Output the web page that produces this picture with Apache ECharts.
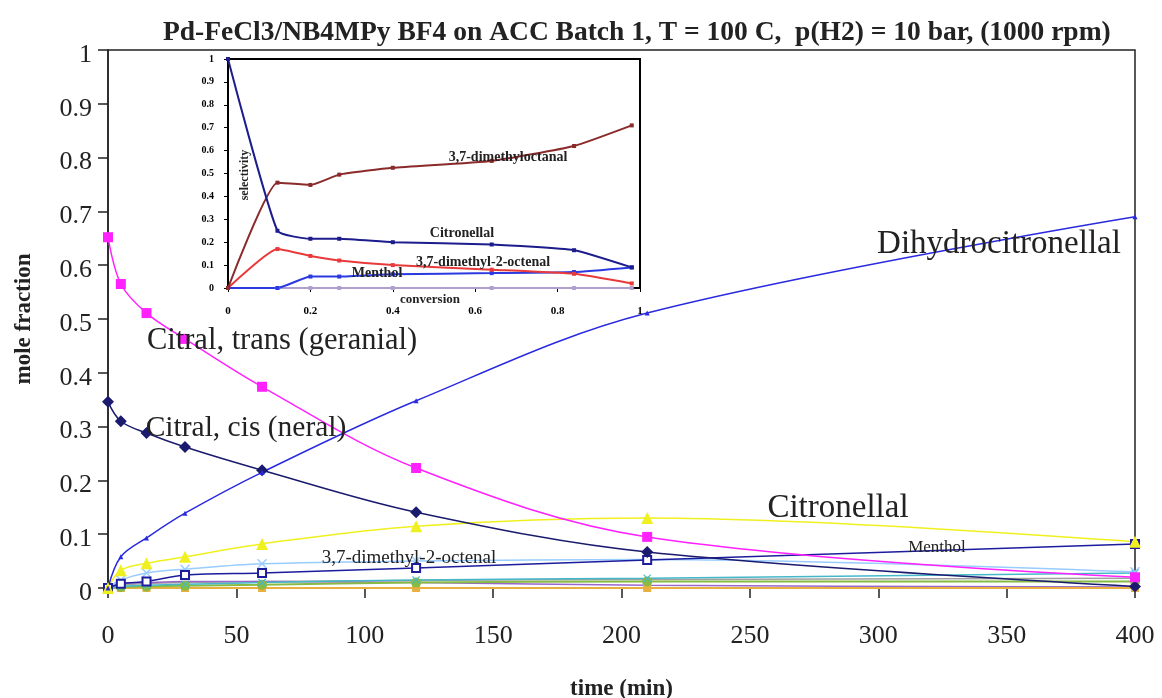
<!DOCTYPE html>
<html>
<head>
<meta charset="utf-8">
<script src="https://cdn.jsdelivr.net/npm/echarts@6/dist/echarts.min.js"></script>
<style>
  html, body { margin: 0; padding: 0; background: #fff; }
  #main { width: 1162px; height: 698px; }
</style>
</head>
<body>
<div id="main"></div>
<script>
// main plot: mole fraction vs time
var times = [0, 5, 15, 30, 60, 120, 210, 400];
var citralTrans = [0.652, 0.565, 0.511, 0.463, 0.374, 0.223, 0.095, 0.02];
var citralCis = [0.346, 0.31, 0.288, 0.262, 0.219, 0.141, 0.067, 0.003];
var dihydro = [0, 0.058, 0.093, 0.139, 0.215, 0.348, 0.511, 0.69];
var citronellal = [0, 0.033, 0.046, 0.058, 0.082, 0.115, 0.13, 0.086];
var menthol = [0, 0.008, 0.012, 0.024, 0.028, 0.037, 0.052, 0.082];
var octenal = [0, 0.015, 0.028, 0.035, 0.045, 0.05, 0.053, 0.03];
var minorTeal = [0, 0.003, 0.005, 0.007, 0.01, 0.015, 0.018, 0.028];
var minorGreen = [0, 0.002, 0.003, 0.004, 0.006, 0.01, 0.012, 0.012];
var minorOrange = [0, 0, 0, 0, 0, 0, 0, 0];
var minorPurple = [0, 0.008, 0.01, 0.012, 0.012, 0.01, 0.005, 0.002];
var minorGray = [0, 0.005, 0.008, 0.01, 0.012, 0.014, 0.016, 0.018];

// inset: selectivity vs conversion
var conv = [0, 0.12, 0.2, 0.27, 0.4, 0.64, 0.84, 0.98];
var selCitronellal = [1.0, 0.25, 0.215, 0.215, 0.2, 0.19, 0.165, 0.09];
var selOctanal = [0, 0.46, 0.45, 0.495, 0.525, 0.555, 0.62, 0.71];
var selOctenal = [0, 0.17, 0.14, 0.12, 0.1, 0.08, 0.062, 0.02];
var selMenthol = [0, 0, 0.05, 0.05, 0.06, 0.065, 0.07, 0.09];
var selOther = [0, 0, 0, 0, 0, 0, 0, 0];

var serif = 'Liberation Serif';
var xMark = 'path://M0,1L1,0L5,4L9,0L10,1L6,5L10,9L9,10L5,6L1,10L0,9L4,5Z';

function pairs(xs, ys) {
  return xs.map(function (x, i) { return [x, ys[i]]; });
}

function mainLine(name, ys, color, symbol, size, width) {
  return {
    name: name, type: 'line', xAxisIndex: 0, yAxisIndex: 0,
    data: pairs(times, ys), smooth: 0.35,
    symbol: symbol, symbolSize: size, showSymbol: true,
    lineStyle: { color: color, width: width || 1.5 },
    itemStyle: { color: color, borderWidth: 1.5 }
  };
}

function insetLine(name, ys, color, symbol) {
  return {
    name: name, type: 'line', xAxisIndex: 1, yAxisIndex: 1,
    data: pairs(conv, ys), smooth: 0.15,
    symbol: symbol || 'rect', symbolSize: 4,
    lineStyle: { color: color, width: 2 },
    itemStyle: { color: color }
  };
}

function label(txt, x, y, font, extra) {
  var g = { type: 'text', x: x, y: y, z: 10,
    style: { text: txt, font: font, fill: '#222', align: 'center', verticalAlign: 'middle' } };
  if (extra) { for (var k in extra) g[k] = extra[k]; }
  return g;
}

var chart = echarts.init(document.getElementById('main'));
chart.setOption({
  animation: false,
  backgroundColor: '#fff',
  title: {
    text: 'Pd-FeCl3/NB4MPy BF4 on ACC Batch 1, T = 100 C,  p(H2) = 10 bar, (1000 rpm)',
    left: 158, top: 14,
    textStyle: { fontFamily: serif, fontWeight: 'bold', fontSize: 27.5, color: '#222' }
  },
  grid: [
    { left: 108, right: 27, top: 50, bottom: 110, outerBoundsMode: 'none', containLabel: false,
      show: true, borderColor: '#222', borderWidth: 1.5 },
    { left: 228, top: 59, width: 412, height: 229, outerBoundsMode: 'none', containLabel: false,
      show: true, backgroundColor: '#fff', borderColor: '#000', borderWidth: 2 }
  ],
  xAxis: [
    {
      type: 'value', gridIndex: 0, min: 0, max: 400, interval: 50,
      name: 'time (min)', nameLocation: 'middle', nameGap: 90,
      nameTextStyle: { fontFamily: serif, fontWeight: 'bold', fontSize: 23, color: '#222' },
      axisLine: { lineStyle: { color: '#222', width: 1.5 } },
      axisTick: { length: 10, lineStyle: { color: '#222', width: 1.5 } },
      axisLabel: { fontFamily: serif, fontSize: 26, color: '#222', margin: 35 },
      splitLine: { show: false }
    },
    {
      type: 'value', gridIndex: 1, min: 0, max: 1, interval: 0.2,
      axisLine: { lineStyle: { color: '#000', width: 2 } },
      axisTick: { length: 4, lineStyle: { color: '#000' } },
      axisLabel: { fontFamily: serif, fontWeight: 'bold', fontSize: 11, color: '#000', margin: 18 },
      splitLine: { show: false }
    }
  ],
  yAxis: [
    {
      type: 'value', gridIndex: 0, min: 0, max: 1, interval: 0.1,
      name: 'mole fraction', nameLocation: 'middle', nameGap: 72,
      nameTextStyle: { fontFamily: serif, fontWeight: 'bold', fontSize: 23, color: '#222' },
      axisLine: { show: true, lineStyle: { color: '#222', width: 1.5 } },
      axisTick: { show: true, length: 10, lineStyle: { color: '#222', width: 1.5 } },
      axisLabel: { fontFamily: serif, fontSize: 26, color: '#222', margin: 16, verticalAlign: 'top', lineHeight: 10 },
      splitLine: { show: false }
    },
    {
      type: 'value', gridIndex: 1, min: 0, max: 1, interval: 0.1,
      axisLine: { show: true, lineStyle: { color: '#000', width: 2 } },
      axisTick: { show: true, length: 4, lineStyle: { color: '#000' } },
      axisLabel: { fontFamily: serif, fontWeight: 'bold', fontSize: 10, color: '#000', margin: 14 },
      splitLine: { show: false }
    }
  ],
  series: [
    mainLine('minor gray', minorGray, '#a0a0a0', 'none', 0),
    mainLine('minor purple', minorPurple, '#9966cc', 'none', 0),
    mainLine('minor orange', minorOrange, '#e8b040', 'rect', 8, 2),
    mainLine('minor green', minorGreen, '#88bb44', 'circle', 10, 2),
    mainLine('minor teal', minorTeal, '#44b8c8', xMark, 8),
    mainLine('3,7-dimethyl-2-octenal', octenal, '#99ccff', xMark, 10),
    mainLine('Menthol', menthol, '#1c1c9c', 'emptyRect', 8),
    mainLine('Citronellal', citronellal, '#f0f020', 'triangle', 12),
    mainLine('Citral, cis (neral)', citralCis, '#1a1a6e', 'diamond', 12),
    mainLine('Citral, trans (geranial)', citralTrans, '#ff22ff', 'rect', 10),
    mainLine('Dihydrocitronellal', dihydro, '#2a2ae0', 'triangle', 5),
    insetLine('other', selOther, '#b0a0d0', 'rect'),
    insetLine('Menthol sel', selMenthol, '#2a3ae0'),
    insetLine('3,7-dimethyl-2-octenal sel', selOctenal, '#e83a3a'),
    insetLine('3,7-dimethyloctanal sel', selOctanal, '#8a2a2a'),
    insetLine('Citronellal sel', selCitronellal, '#1c1c8c')
  ],
  graphic: [
    label('Dihydrocitronellal', 999, 244, '33px "Liberation Serif"'),
    label('Citral, trans (geranial)', 282, 341, '30.5px "Liberation Serif"'),
    label('Citral, cis (neral)', 246, 428, '29.5px "Liberation Serif"'),
    label('Citronellal', 838, 508, '33px "Liberation Serif"'),
    label('3,7-dimethyl-2-octenal', 409, 558, '19px "Liberation Serif"'),
    label('Menthol', 937, 548, '17px "Liberation Serif"'),
    label('3,7-dimethyloctanal', 508, 157, 'bold 14px "Liberation Serif"'),
    label('Citronellal', 462, 233, 'bold 14px "Liberation Serif"'),
    label('3,7-dimethyl-2-octenal', 483, 262, 'bold 14px "Liberation Serif"'),
    label('Menthol', 377, 273, 'bold 14px "Liberation Serif"'),
    label('conversion', 430, 300, 'bold 13px "Liberation Serif"'),
    label('selectivity', 245, 175, 'bold 12px "Liberation Serif"', { rotation: Math.PI / 2 })
  ]
});
</script>
</body>
</html>
